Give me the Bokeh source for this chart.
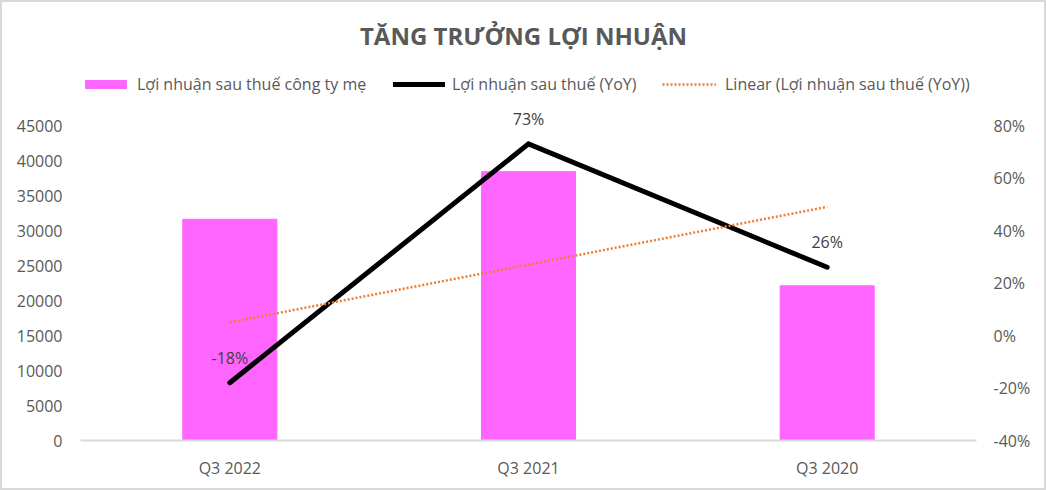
import numpy as np
from bokeh.plotting import figure
from bokeh.models import (FactorRange, Range1d, LinearAxis, FixedTicker, NumeralTickFormatter,
                          ColumnDataSource, LabelSet, Label, Legend, LegendItem)
from bokeh.core.properties import value
from bokeh.embed import file_html
from bokeh.resources import INLINE

# ---- data ----
categories = ["Q3 2022", "Q3 2021", "Q3 2020"]
profit = [31600, 38400, 22100]          # Lợi nhuận sau thuế công ty mẹ
yoy = [-0.18, 0.73, 0.26]               # Lợi nhuận sau thuế (YoY)
yoy_labels = ["-18%", "73%", "26%"]
left_ticks = [0, 5000, 10000, 15000, 20000, 25000, 30000, 35000, 40000, 45000]
right_ticks = [-0.4, -0.2, 0.0, 0.2, 0.4, 0.6, 0.8]

title_text = "TĂNG TRƯỞNG LỢI NHUẬN"
series_names = ["Lợi nhuận sau thuế công ty mẹ", "Lợi nhuận sau thuế (YoY)",
                "Linear (Lợi nhuận sau thuế (YoY))"]

# linear trendline (least squares fit over the category index)
idx = np.arange(1, len(yoy) + 1)
slope, intercept = np.polyfit(idx, yoy, 1)
trend = list(slope * idx + intercept)

FONT = "Open Sans"
TXT = "#595959"
FS = "16px"

# geometry: the frame spans the full height above the baseline; the axes' scales
# cover 0..45000 and -40%..80% over the lower 315 px of it
FRAME_W, FRAME_H, AXIS_H = 896, 440, 315
left_top = left_ticks[-1] * FRAME_H / AXIS_H
right_top = right_ticks[0] + (right_ticks[-1] - right_ticks[0]) * FRAME_H / AXIS_H

src = ColumnDataSource(dict(cat=categories, profit=profit, yoy=yoy, lab=yoy_labels, trend=trend))

p = figure(x_range=FactorRange(*categories, range_padding=0),
           y_range=Range1d(0, left_top),
           frame_width=FRAME_W, frame_height=FRAME_H,
           min_border_left=80, min_border_right=70, min_border_top=0, min_border_bottom=50,
           output_backend="svg", toolbar_location=None)
p.extra_y_ranges = {"pct": Range1d(right_ticks[0], right_top)}
p.border_fill_alpha = 0
p.background_fill_alpha = 0
p.styles = {"box-shadow": "inset 0 0 0 2px #d9d9d9", "background-color": "white"}

p.outline_line_color = None
p.xgrid.visible = False
p.ygrid.visible = False

def style_axis(ax, standoff):
    ax.axis_line_color = None
    ax.major_tick_line_color = None
    ax.minor_tick_line_color = None
    ax.major_tick_out = 0
    ax.major_tick_in = 0
    ax.minor_tick_out = 0
    ax.minor_tick_in = 0
    ax.major_label_text_color = TXT
    ax.major_label_text_font = FONT
    ax.major_label_text_font_size = FS
    ax.major_label_standoff = standoff

# left axis
ya = p.yaxis[0]
ya.ticker = FixedTicker(ticks=left_ticks)
ya.formatter = NumeralTickFormatter(format="0")
style_axis(ya, 18)

# right axis
ra = LinearAxis(y_range_name="pct", ticker=FixedTicker(ticks=right_ticks),
                formatter=NumeralTickFormatter(format="0%"))
style_axis(ra, 17)
p.add_layout(ra, "right")

# x axis
xa = p.xaxis[0]
style_axis(xa, 16)
xa.axis_line_color = "#d9d9d9"
xa.axis_line_width = 2

bars = p.vbar(x="cat", top="profit", width=0.315, source=src, color="#ff66ff")
ln = p.line(x="cat", y="yoy", source=src, y_range_name="pct", line_color="black",
            line_width=5, line_join="miter", line_cap="round")
tr = p.line(x="cat", y="trend", source=src, y_range_name="pct", line_color="#ed7d31",
            line_width=2.5, line_dash="2 2")

labels = LabelSet(x="cat", y="yoy", text="lab", source=src, y_range_name="pct",
                  y_offset=25, text_align="center", text_baseline="middle",
                  text_color="#404040", text_font=value(FONT), text_font_size=value(FS))
p.add_layout(labels)

title = Label(x=443, y=405, x_units="screen", y_units="screen", text=title_text,
              text_align="center", text_baseline="middle", text_color=TXT,
              text_font=FONT, text_font_size="24px", text_font_style="bold")
p.add_layout(title)

for r, name, xloc, gw, st in [(bars, series_names[0], 0, 51, 6),
                              (ln, series_names[1], 313, 52, 7),
                              (tr, series_names[2], 582, 54, 9)]:
    lg = Legend(items=[LegendItem(label=name, renderers=[r])], location=(xloc, 345),
                orientation="horizontal", padding=0, margin=0, spacing=0,
                glyph_width=gw, glyph_height=10, label_standoff=st, label_height=20,
                border_line_color=None, background_fill_alpha=0,
                label_text_color=TXT, label_text_font=FONT, label_text_font_size=FS)
    p.add_layout(lg, "center")

open("out.html", "w").write(file_html(p, INLINE))
